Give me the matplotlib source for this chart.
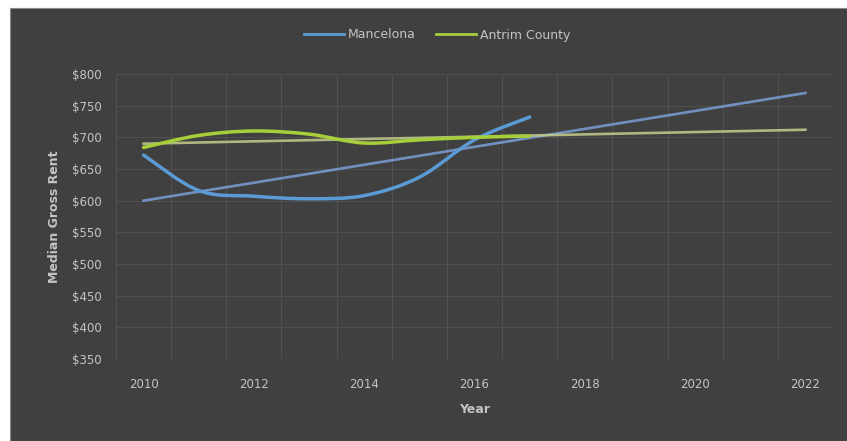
import numpy as np
import matplotlib
matplotlib.use("Agg")
import matplotlib.pyplot as plt
from matplotlib.path import Path
from matplotlib.patches import PathPatch, Rectangle

# Median gross rent by year
years = [2010, 2011, 2012, 2013, 2014, 2015, 2016, 2017]
mancelona = [672, 616, 607, 603, 608, 637, 696, 732]
antrim = [684, 703, 710, 705, 691, 696, 700, 702]

# Linear trend lines (start / end values)
trend_years = [2010, 2022]
mancelona_trend = [600, 770]
antrim_trend = [690, 712]

y_ticks = [350, 400, 450, 500, 550, 600, 650, 700, 750, 800]
x_ticks = [2010, 2012, 2014, 2016, 2018, 2020, 2022]

BG = "#404040"
GRID = "#505050"
TEXT = "#c4c4c4"
BLUE = "#5b9bd5"
GREEN = "#a6cf3a"
BLUE_TREND = "#7b9fd6"
GREEN_TREND = "#c3cc8c"


def smooth_path(xs, ys):
    """Cubic Bezier path through the points (Catmull-Rom style smoothing)."""
    pts = np.column_stack([xs, ys]).astype(float)
    n = len(pts)
    verts = [pts[0]]
    codes = [Path.MOVETO]
    for i in range(n - 1):
        p0 = pts[i - 1] if i > 0 else pts[i]
        p1 = pts[i]
        p2 = pts[i + 1]
        p3 = pts[i + 2] if i + 2 < n else pts[i + 1]
        c1 = p1 + (p2 - p0) / 6.0
        c2 = p2 - (p3 - p1) / 6.0
        verts += [c1, c2, p2]
        codes += [Path.CURVE4] * 3
    return Path(verts, codes)


fig = plt.figure(figsize=(8.47, 4.41), dpi=100)
fig.patch.set_facecolor("white")
fig.add_artist(Rectangle((10 / 847, 0), 1 - 10 / 847, 1 - 8 / 441,
                         transform=fig.transFigure, facecolor=BG,
                         edgecolor="#8a8a8a", linewidth=0.8, zorder=0))

ax = fig.add_axes([116 / 847, 1 - 359 / 441, (833 - 116) / 847, (359 - 74) / 441])
ax.set_facecolor("none")
ax.set_xlim(2009.5, 2022.5)
ax.set_ylim(350, 800)

for spine in ax.spines.values():
    spine.set_visible(False)

# Gridlines
for yv in y_ticks:
    ax.axhline(yv, color=GRID, linewidth=0.8, zorder=1)
for xv in np.arange(2009.5, 2023.0, 1.0):
    ax.axvline(xv, color=GRID, linewidth=0.8, zorder=1)

ax.set_yticks(y_ticks)
ax.set_yticklabels([f"${v}" for v in y_ticks])
ax.set_xticks(x_ticks)
ax.set_xticklabels([str(v) for v in x_ticks])
ax.tick_params(axis="both", length=0, colors=TEXT, labelsize=8.5)
ax.tick_params(axis="y", pad=10)
ax.tick_params(axis="x", pad=14)

ax.set_xlabel("Year", color=TEXT, fontsize=9, fontweight="bold", labelpad=8)
ax.set_ylabel("Median Gross Rent", color=TEXT, fontsize=9, fontweight="bold", labelpad=8)

# Trend lines
ax.plot(trend_years, mancelona_trend, color=BLUE_TREND, linewidth=1.9, alpha=0.85, zorder=3)
ax.plot(trend_years, antrim_trend, color=GREEN_TREND, linewidth=1.9, alpha=0.85, zorder=3)

# Smoothed series
ax.add_patch(PathPatch(smooth_path(years, mancelona), facecolor="none",
                       edgecolor=BLUE, linewidth=2.5, zorder=4, capstyle="round"))
ax.add_patch(PathPatch(smooth_path(years, antrim), facecolor="none",
                       edgecolor=GREEN, linewidth=2.5, zorder=4, capstyle="round"))

# Legend
h1, = ax.plot([], [], color=BLUE, linewidth=2.0, label="Mancelona")
h2, = ax.plot([], [], color=GREEN, linewidth=2.0, label="Antrim County")
fig.legend(handles=[h1, h2], loc="center", bbox_to_anchor=(437 / 847, 1 - 35 / 441),
           ncol=2, frameon=False, fontsize=9, labelcolor=TEXT,
           handlelength=3.2, columnspacing=1.6, handletextpad=0.3)

fig.savefig("out.png", dpi=100, facecolor=fig.get_facecolor())
